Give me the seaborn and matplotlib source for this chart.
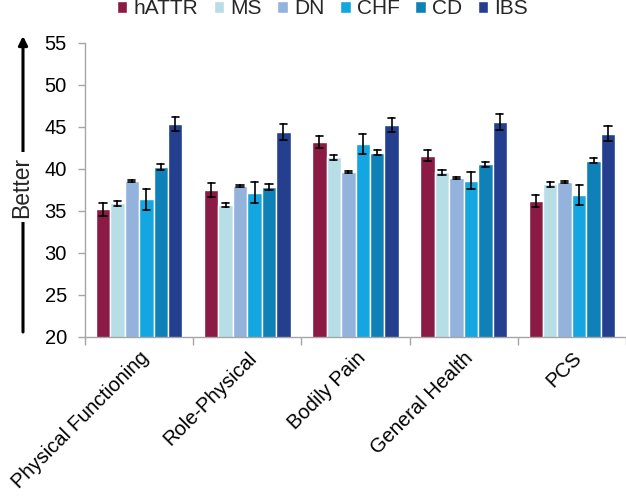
import numpy as np
import pandas as pd
import matplotlib
matplotlib.use("Agg")
import matplotlib.pyplot as plt
import seaborn as sns

## Data

domains = ["Physical Functioning", "Role-Physical", "Bodily Pain", "General Health", "PCS"]
groups = ["hATTR", "MS", "DN", "CHF", "CD", "IBS"]
colors = ["#8B1A45", "#B7DDE6", "#93B3DC", "#13A6E0", "#0F81B9", "#233F8E"]

# mean scores, one value per domain
hattr = [35.2, 37.5, 43.2, 41.6, 36.2]
ms = [35.9, 35.7, 41.4, 39.6, 38.2]
dn = [38.6, 38.0, 39.65, 38.9, 38.45]
chf = [36.4, 37.2, 43.0, 38.6, 36.9]
cd = [40.2, 37.9, 41.95, 40.55, 41.0]
ibs = [45.4, 44.4, 45.25, 45.6, 44.2]

# half-width of the error bars
hattr_err = [0.75, 0.8, 0.75, 0.7, 0.7]
ms_err = [0.3, 0.25, 0.3, 0.3, 0.3]
dn_err = [0.12, 0.15, 0.12, 0.12, 0.12]
chf_err = [1.25, 1.2, 1.2, 1.0, 1.2]
cd_err = [0.35, 0.35, 0.3, 0.3, 0.3]
ibs_err = [0.85, 0.95, 0.85, 0.9, 0.9]


def build_frame():
    """
    Long table with two rows per bar (mean - err, mean + err) so that
    seaborn's mean estimator gives the bar and min/max gives the error bar.
    """
    means = [hattr, ms, dn, chf, cd, ibs]
    errs = [hattr_err, ms_err, dn_err, chf_err, cd_err, ibs_err]
    rows = []
    for g, m_list, e_list in zip(groups, means, errs):
        for d, m, e in zip(domains, m_list, e_list):
            rows.append({"Domain": d, "Group": g, "Score": m - e})
            rows.append({"Domain": d, "Group": g, "Score": m + e})
    return pd.DataFrame(rows)


def plot_scores(df):
    sns.set_style("white")
    plt.rcParams["font.family"] = ["Liberation Sans", "DejaVu Sans"]

    fig = plt.figure(figsize=(6.26, 4.97), dpi=100)
    ax = fig.add_axes([85 / 626, 160 / 497, 541 / 626, 294 / 497])

    sns.barplot(
        data=df, x="Domain", y="Score", hue="Group",
        order=domains, hue_order=groups,
        palette=dict(zip(groups, colors)),
        estimator="mean",
        errorbar=lambda x: (x.min(), x.max()),
        capsize=0.4, width=0.8, saturation=1,
        err_kws={"color": "black", "linewidth": 1.2},
        ax=ax,
    )

    ax.set_ylim(20, 55)
    ax.set_yticks(range(20, 56, 5))
    ax.set_xlim(-0.5, 4.5)
    ax.set_xlabel("")
    ax.set_ylabel("")

    for side in ["top", "right"]:
        ax.spines[side].set_visible(False)
    for side in ["left", "bottom"]:
        ax.spines[side].set_color("#A6A6A6")
        ax.spines[side].set_linewidth(1.0)

    ax.tick_params(axis="y", length=5, width=1, color="#A6A6A6",
                   labelsize=14.5, labelcolor="black", pad=8, left=True)
    ax.tick_params(axis="x", which="major", length=0, labelsize=14.5,
                   labelcolor="black", pad=8)
    ax.set_xticks(np.arange(-0.5, 5, 1), minor=True)
    ax.tick_params(axis="x", which="minor", length=6, width=1,
                   color="#A6A6A6", bottom=True)
    plt.setp(ax.get_xticklabels(), rotation=45, ha="right", va="top",
             rotation_mode="anchor")

    ax.legend(loc="center", bbox_to_anchor=(0.515, 0.982),
              bbox_transform=fig.transFigure, ncol=6, frameon=False,
              fontsize=15, handlelength=0.5, handleheight=0.5,
              handletextpad=0.3, columnspacing=0.75)

    # "Better" arrow on the left
    ax.annotate("", xy=(23, 497 - 36), xytext=(23, 497 - 332),
                xycoords="figure pixels", textcoords="figure pixels",
                arrowprops=dict(arrowstyle="-|>", lw=2.2, color="black",
                                mutation_scale=13, shrinkA=0, shrinkB=0),
                annotation_clip=False)
    fig.text(22 / 626, 1 - 187 / 497, "Better", rotation=90, fontsize=16.5,
             ha="center", va="center", zorder=5,
             bbox=dict(facecolor="white", edgecolor="none", pad=3))

    fig.savefig("out.png", dpi=100)


if __name__ == "__main__":
    df = build_frame()
    plot_scores(df)
